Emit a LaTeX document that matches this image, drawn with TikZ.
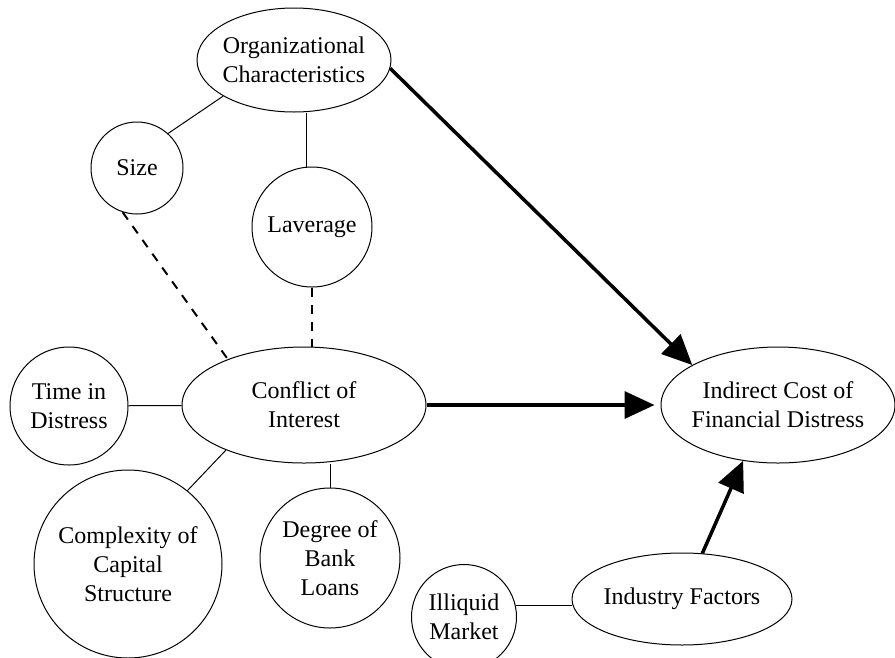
\documentclass[tikz,border=0pt]{standalone}
\usepackage{fontspec}
\setmainfont{Liberation Serif}
\usetikzlibrary{arrows.meta}
\usetikzlibrary{shapes.geometric}

\begin{document}
\begin{tikzpicture}[x=1pt,y=-1pt,
  font=\fontsize{24}{29}\selectfont,
  oval/.style={draw, ellipse, line width=1pt, align=center, inner xsep=-6pt, inner ysep=0pt},
  bubble/.style={draw, circle, line width=1pt, align=center, inner sep=0pt},
  link/.style={line width=1pt},
  hint/.style={line width=2pt, dash pattern=on 9pt off 8pt},
  cause/.style={line width=3.5pt, -{Triangle[length=30pt,width=27pt]}}]
\useasboundingbox (0,0) rectangle (895,657);

% ellipses
\node[oval, minimum width=194pt, minimum height=104pt] (org) at (294,60) {Organizational\\Characteristics};
\node[oval, minimum width=244pt, minimum height=116pt] (conflict) at (304,405) {Conflict of\\Interest};
\node[oval, minimum width=234pt, minimum height=116pt] (cost) at (778,405) {Indirect Cost of\\Financial Distress};
\node[oval, minimum width=220pt, minimum height=92pt] (industry) at (682,599) {Industry Factors};

% circles
\node[bubble, minimum size=92pt] (size) at (137,168) {Size};
\node[bubble, minimum size=120pt] (lev) at (312,227) {Laverage};
\node[bubble, minimum size=118pt] (time) at (69,406) {Time in\\Distress};
\node[bubble, minimum size=188pt] (complex) at (128,564) {Complexity of\\Capital\\Structure};
\node[bubble, minimum size=140pt] (bank) at (330,558) {Degree of\\Bank\\Loans};
\node[bubble, minimum size=105pt] (illiquid) at (464,617) {Illiquid\\Market};

% plain links
\draw[link] (org.207) -- (size.48);
\draw[link] (lev.95) -- (lev.95 |- org.south);
\draw[link] (time) -- (conflict);
\draw[link] (conflict.210) -- (complex.51);
\draw[link] (bank.north) -- (bank.north |- conflict.south);
\draw[link] (illiquid.12) -- (illiquid.12 -| industry.west);

% dashed links
\draw[hint] (size.252) -- (conflict.149);
\draw[hint] (lev.south) -- (lev.south |- conflict.north);

% arrows into the cost
\draw[cause] (org.-5) -- (cost.155);
\draw[cause, shorten >=6pt] (conflict) -- (cost);
\draw[cause] (industry.66) -- (cost.238);
\end{tikzpicture}
\end{document}
